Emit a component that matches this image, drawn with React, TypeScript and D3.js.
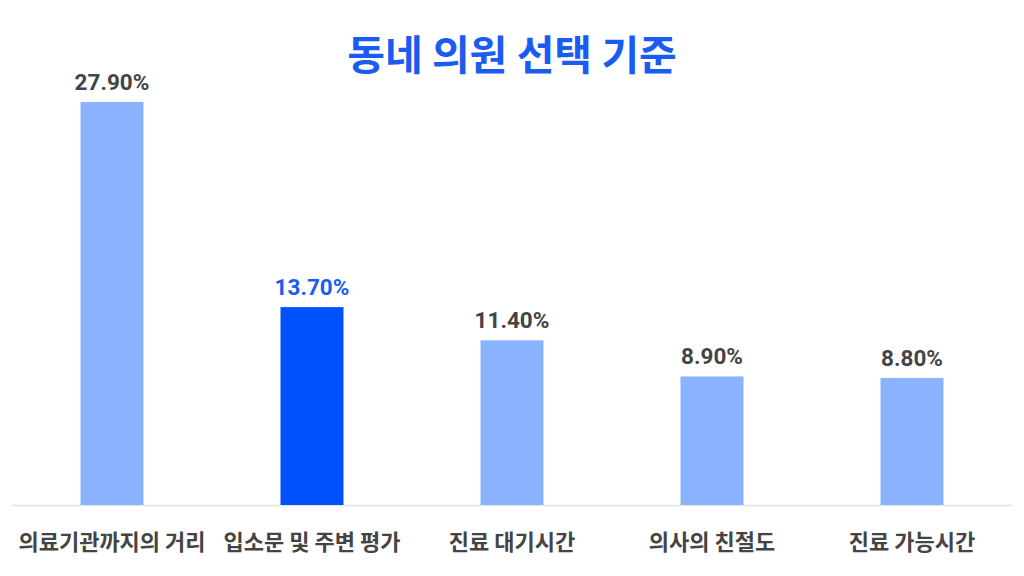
import React from "react";
import * as d3 from "d3";

const categories = ["의료기관까지의 거리", "입소문 및 주변 평가", "진료 대기시간", "의사의 친절도", "진료 가능시간"];
const values = [27.9, 13.7, 11.4, 8.9, 8.8];
const highlightIndex = 1;
const title = "동네 의원 선택 기준";

export default function App() {
  const W = 1024, H = 576;
  const baseline = 505;
  const x = d3.scaleBand<string>().domain(categories).range([12, 1012]).paddingInner(0.685).paddingOuter(0.3425);
  const y = d3.scaleLinear().domain([0, 27.9]).range([baseline, 102]);
  const light = "#8ab4ff";
  const dark = "#0052ff";
  return (
    <svg width={W} height={H} style={{ position: "absolute", left: 0, top: 0, background: "#fff" }}>
      <text x={512} y={70} textAnchor="middle" fontFamily="'Noto Sans CJK KR'" fontWeight={700} fontSize={41} fill="#1a5cf2">
        {title}
      </text>
      <line x1={12} x2={1012} y1={baseline + 0.5} y2={baseline + 0.5} stroke="#e3e3e3" strokeWidth={1.5} />
      {categories.map((c, i) => {
        const bx = x(c)!;
        const bw = x.bandwidth();
        const top = y(values[i]);
        const hi = i === highlightIndex;
        return (
          <g key={c}>
            <rect x={bx} y={top} width={bw} height={baseline - top} fill={hi ? dark : light} />
            <text x={bx + bw / 2} y={top - 12} textAnchor="middle" fontFamily="Roboto" fontWeight={700} fontSize={22.5} fill={hi ? "#1a5cf2" : "#444"}>
              {values[i].toFixed(2) + "%"}
            </text>
            <text x={bx + bw / 2} y={550} textAnchor="middle" fontFamily="'Noto Sans CJK KR'" fontWeight={700} fontSize={22} fill="#444">
              {c}
            </text>
          </g>
        );
      })}
    </svg>
  );
}
